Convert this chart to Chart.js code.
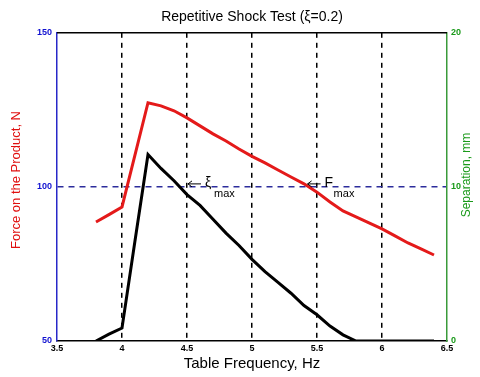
<!DOCTYPE html>
<html><head><meta charset="utf-8">
<script src="https://cdn.jsdelivr.net/npm/chart.js@4.4.1/dist/chart.umd.min.js"></script>
<style>html,body{margin:0;padding:0;background:#fff}#wrap{width:480px;height:377px}</style>
</head><body><div id="wrap"><canvas id="c" width="480" height="377"></canvas></div>
<script>
const freq = [3.8,3.9,4.0,4.1,4.2,4.3,4.4,4.5,4.6,4.7,4.8,4.9,5.0,5.1,5.2,5.3,5.4,5.5,5.6,5.7,5.8,5.9,6.0,6.1,6.2,6.3,6.4];
const force = [88.6,91.0,93.5,110.4,127.3,126.3,124.7,122.4,119.8,117.2,114.9,112.3,109.9,107.8,105.5,103.2,101.0,98.3,95.1,92.2,90.3,88.3,86.4,84.1,81.8,79.9,77.9];
const separation = [0,0.45,0.84,6.5,12.1,11.2,10.4,9.5,8.8,7.9,7.0,6.2,5.3,4.5,3.8,3.1,2.3,1.7,0.97,0.4,0,0,0,0,0,0,0];
const xTicks = [3.5,4,4.5,5,5.5,6,6.5];
const forceTicks = [50,100,150];
const sepTicks = [0,10,20];
const annX = [4.5, 5.42];
const annLabel = ['ξ','F'];

const F = '"Liberation Sans", Arial, sans-serif';

const overlay = {
  id:'overlay',
  afterDraw(chart){
    const {ctx, chartArea:a, scales} = chart;
    ctx.save();
    ctx.strokeStyle = '#000'; ctx.lineWidth = 1.5;
    ctx.beginPath(); ctx.moveTo(a.left, a.top); ctx.lineTo(a.right, a.top); ctx.stroke();
    const yp = scales.y.getPixelForValue(100);
    annX.forEach((v,i)=>{
      const xp = scales.x.getPixelForValue(v);
      ctx.strokeStyle='#000'; ctx.lineWidth=1;
      ctx.beginPath(); ctx.moveTo(xp+1, yp-3); ctx.lineTo(xp+14, yp-3); ctx.stroke();
      ctx.beginPath(); ctx.moveTo(xp+5, yp-6); ctx.lineTo(xp+1, yp-3); ctx.lineTo(xp+5, yp); ctx.stroke();
      ctx.fillStyle='#000'; ctx.textBaseline='middle'; ctx.textAlign='left';
      ctx.font = '14px ' + F;
      ctx.fillText(annLabel[i], xp+18, yp-4);
      ctx.font = '11px ' + F;
      ctx.fillText('max', xp+27, yp+7);
    });
    ctx.textAlign='center'; ctx.textBaseline='middle';
    ctx.font = '13px ' + F;
    ctx.fillStyle = '#e01010';
    ctx.translate(16, 180); ctx.rotate(-Math.PI/2);
    ctx.fillText('Force on the Product, N', 0, 0);
    ctx.setTransform(1,0,0,1,0,0);
    ctx.font = '12px ' + F;
    ctx.fillStyle = '#1a9a1a';
    ctx.translate(467, 175); ctx.rotate(-Math.PI/2);
    ctx.fillText('Separation, mm', 0, 0);
    ctx.restore();
  }
};

new Chart(document.getElementById('c'), {
  type:'line',
  data:{
    datasets:[
      {label:'Force', data: freq.map((x,i)=>({x, y:force[i]})), borderColor:'#e41a1a', borderWidth:3, pointRadius:0, yAxisID:'y', tension:0},
      {label:'Separation', data: freq.map((x,i)=>({x, y:separation[i]})), borderColor:'#000', borderWidth:3, pointRadius:0, yAxisID:'y1', tension:0}
    ]
  },
  options:{
    responsive:false, animation:false,
    layout:{padding:0},
    plugins:{
      legend:{display:false}, tooltip:{enabled:false},
      title:{display:true, fullSize:false, text:'Repetitive Shock Test (ξ=0.2)', color:'#000', font:{family:F, size:14, weight:'normal'}, padding:{top:9,bottom:7}}
    },
    scales:{
      x:{type:'linear', min:3.5, max:6.5,
        afterBuildTicks(s){ s.ticks = xTicks.map(v=>({value:v})); },
        afterFit(s){ s.height = 36; },
        ticks:{color:'#000', font:{family:F, size:9, weight:'bold'}, padding:2, maxRotation:0, autoSkip:false, callback:v=>String(v)},
        grid:{drawTicks:false, color:c=> (c.tick && (c.tick.value===3.5||c.tick.value===6.5)) ? 'rgba(0,0,0,0)' : '#000', lineWidth:1.5},
        border:{color:'#000', width:1.5, dash:[5,5]},
        title:{display:true, text:'Table Frequency, Hz', color:'#000', font:{family:F, size:15}, padding:{top:0,bottom:4}}
      },
      y:{type:'linear', position:'left', min:50, max:150,
        afterBuildTicks(s){ s.ticks = forceTicks.map(v=>({value:v})); },
        afterFit(s){ s.width = 57; },
        ticks:{color:'#1010d0', font:{family:F, size:9, weight:'bold'}, padding:5},
        grid:{drawTicks:false, color:c=> (c.tick && c.tick.value===100) ? '#2c2c9c' : 'rgba(0,0,0,0)', lineWidth:1.5},
        border:{color:'#2828c8', width:1.5, dash:[6,5]}
      },
      y1:{type:'linear', position:'right', min:0, max:20,
        afterBuildTicks(s){ s.ticks = sepTicks.map(v=>({value:v})); },
        afterFit(s){ s.width = 33; },
        ticks:{color:'#1a9a1a', font:{family:F, size:9, weight:'bold'}, padding:4},
        grid:{drawOnChartArea:false, drawTicks:false},
        border:{color:'#3a9a3a', width:1.5}
      }
    }
  },
  plugins:[overlay]
});
</script></body></html>
